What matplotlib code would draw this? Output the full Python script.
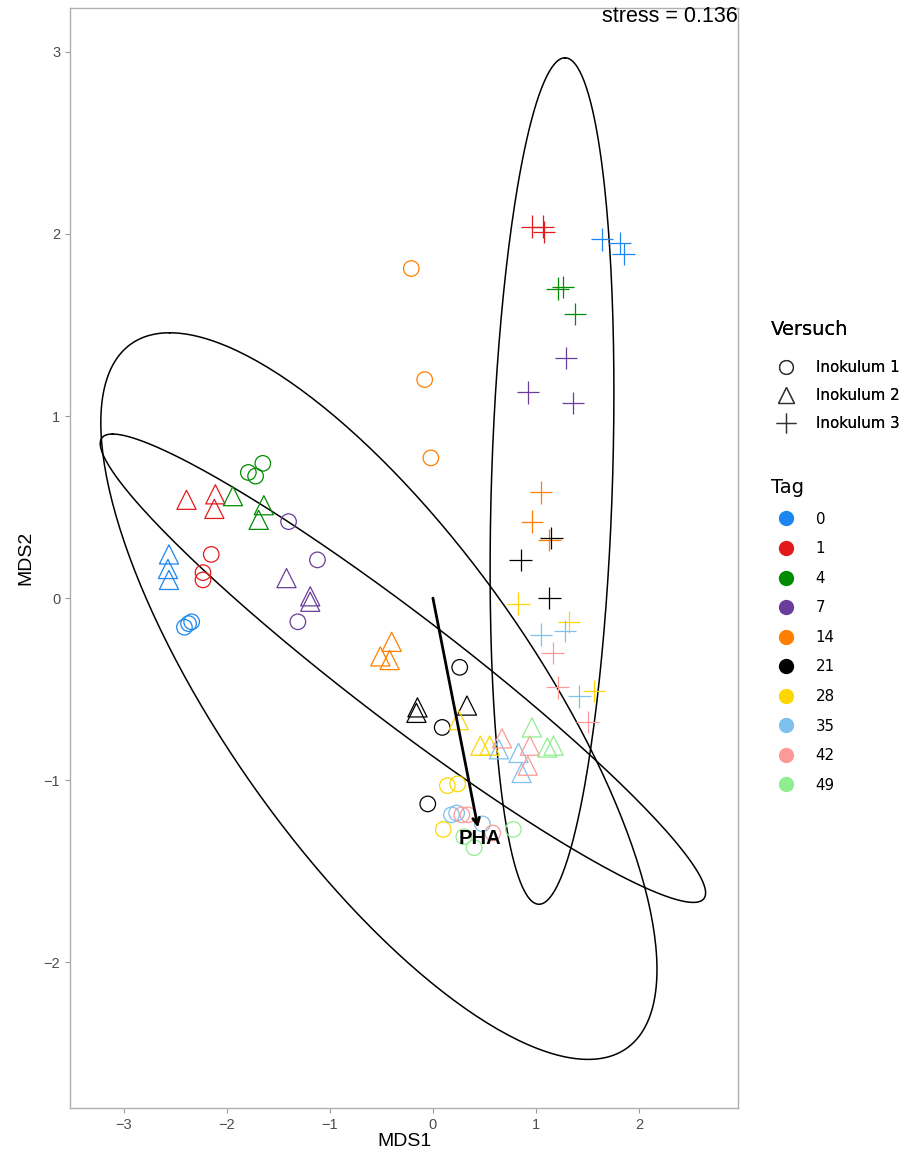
import numpy as np
import matplotlib
matplotlib.use("Agg")
import matplotlib.pyplot as plt
from matplotlib.lines import Line2D

plt.rcParams['font.family'] = ['Liberation Sans', 'DejaVu Sans']

# NMDS scores, one list per Versuch (Inokulum)
tags = [0, 1, 4, 7, 14, 21, 28, 35, 42, 49]
tag_colors = ['#1C86EE', '#E31A1C', '#008B00', '#6A3D9A', '#FF7F00',
              '#000000', '#FFD700', '#7EC0EE', '#FB9A99', '#90EE90']

inok1_tag = [0, 0, 0, 1, 1, 1, 4, 4, 4, 7, 7, 7, 14, 14, 14, 21, 21, 21,
             28, 28, 28, 35, 35, 35, 42, 42, 42, 49, 49, 49]
inok1_x = [-2.41, -2.37, -2.34, -2.15, -2.23, -2.23, -1.65, -1.79, -1.72,
           -1.40, -1.12, -1.31, -0.21, -0.08, -0.02, 0.26, 0.09, -0.05,
           0.14, 0.24, 0.10, 0.18, 0.23, 0.48, 0.28, 0.34, 0.58,
           0.78, 0.40, 0.30]
inok1_y = [-0.16, -0.14, -0.13, 0.24, 0.14, 0.10, 0.74, 0.69, 0.67,
           0.42, 0.21, -0.13, 1.81, 1.20, 0.77, -0.38, -0.71, -1.13,
           -1.03, -1.02, -1.27, -1.19, -1.18, -1.24, -1.19, -1.19, -1.29,
           -1.27, -1.37, -1.31]

inok2_tag = [0, 0, 0, 1, 1, 1, 4, 4, 4, 7, 7, 7, 14, 14, 14, 21, 21, 21,
             28, 28, 28, 35, 35, 35, 42, 42, 42, 49, 49, 49]
inok2_x = [-2.56, -2.57, -2.56, -2.39, -2.11, -2.12, -1.94, -1.64, -1.69,
           -1.42, -1.19, -1.19, -0.40, -0.51, -0.42, -0.15, -0.16, 0.33,
           0.25, 0.46, 0.55, 0.64, 0.83, 0.86, 0.67, 0.94, 0.92,
           0.96, 1.11, 1.17]
inok2_y = [0.24, 0.16, 0.10, 0.54, 0.57, 0.49, 0.56, 0.51, 0.43,
           0.11, 0.01, -0.02, -0.24, -0.32, -0.34, -0.60, -0.63, -0.59,
           -0.67, -0.81, -0.81, -0.83, -0.85, -0.96, -0.77, -0.81, -0.92,
           -0.71, -0.82, -0.81]

inok3_tag = [0, 0, 0, 1, 1, 1, 4, 4, 4, 7, 7, 7, 14, 14, 14, 21, 21, 21,
             28, 28, 28, 35, 35, 35, 42, 42, 42]
inok3_x = [1.64, 1.81, 1.85, 0.96, 1.07, 1.08, 1.21, 1.26, 1.38,
           1.29, 0.92, 1.36, 1.05, 0.96, 1.13, 1.15, 0.85, 1.13,
           0.83, 1.32, 1.56, 1.05, 1.28, 1.42, 1.16, 1.21, 1.50]
inok3_y = [1.97, 1.95, 1.89, 2.04, 2.04, 2.01, 1.70, 1.71, 1.56,
           1.32, 1.13, 1.07, 0.58, 0.42, 0.32, 0.33, 0.21, 0.00,
           -0.03, -0.13, -0.51, -0.20, -0.18, -0.54, -0.30, -0.49, -0.68]

# 95% ellipses per Versuch: centre, conjugate semi-diameters u and v
ell_center = [(-0.524, -0.538), (-0.291, -0.385), (1.155, 0.643)]
ell_u = [(-2.029, 1.995), (-2.816, 1.286), (0.126, 2.324)]
ell_v = [(1.777, 0.0), (0.830, 0.0), (0.587, 0.0)]

# envfit vector
pha_vec = (0.437, -1.26)
stress = 0.136

fig = plt.figure(figsize=(9.09, 11.53), dpi=100)
ax = fig.add_axes([0.077, 0.039, 0.735, 0.954])

col_of = dict(zip(tags, tag_colors))

t = np.linspace(0, 2 * np.pi, 300)
for c, u, v in zip(ell_center, ell_u, ell_v):
    ex = c[0] + np.cos(t) * u[0] + np.sin(t) * v[0]
    ey = c[1] + np.cos(t) * u[1] + np.sin(t) * v[1]
    ax.plot(ex, ey, color='black', lw=1.1, zorder=1)

ax.scatter(inok1_x, inok1_y, s=125, marker='o', facecolors='none',
           edgecolors=[col_of[g] for g in inok1_tag], linewidths=0.9, zorder=3)
ax.scatter(inok2_x, inok2_y, s=190, marker='^', facecolors='none',
           edgecolors=[col_of[g] for g in inok2_tag], linewidths=0.9, zorder=3)
ax.scatter(inok3_x, inok3_y, s=260, marker='+',
           c=[col_of[g] for g in inok3_tag], linewidths=0.9, zorder=3)

ax.annotate('', xy=pha_vec, xytext=(0, 0),
            arrowprops=dict(arrowstyle='->', lw=2, color='black',
                            mutation_scale=12, shrinkA=0, shrinkB=0), zorder=4)
ax.text(pha_vec[0] + 0.02, pha_vec[1] - 0.06, 'PHA', fontsize=14.5,
        fontweight='bold', ha='center', va='center', zorder=5)

ax.set_xlim(-3.52, 2.96)
ax.set_ylim(-2.80, 3.24)
ax.set_xticks([-3, -2, -1, 0, 1, 2])
ax.set_yticks([-2, -1, 0, 1, 2, 3])
ax.set_xticklabels(['\u22123', '\u22122', '\u22121', '0', '1', '2'])
ax.set_yticklabels(['\u22122', '\u22121', '0', '1', '2', '3'])
ax.tick_params(colors='#9A9A9A', labelcolor='#4D4D4D', labelsize=10.5,
               length=3.5, width=0.8)
for sp in ax.spines.values():
    sp.set_color('#B0B0B0')
    sp.set_linewidth(1.0)
ax.set_xlabel('MDS1', fontsize=14, labelpad=1)
ax.set_ylabel('MDS2', fontsize=14, labelpad=7)

ax.text(2.96, 3.25, 'stress = %.3f' % stress, ha='right', va='top',
        fontsize=15.5)

# legends
leg_font = ['DejaVu Sans']
shape_handles = [
    Line2D([], [], ls='none', marker='o', ms=10, mfc='none', mec='#333333', mew=0.9),
    Line2D([], [], ls='none', marker='^', ms=12, mfc='none', mec='#333333', mew=0.9),
    Line2D([], [], ls='none', marker='+', ms=15, color='#333333', mew=0.9),
]
leg1 = fig.legend(shape_handles, ['Inokulum 1', 'Inokulum 2', 'Inokulum 3'],
                  title='Versuch', loc='upper left', bbox_to_anchor=(0.833, 0.734),
                  frameon=False, prop={'family': leg_font, 'size': 10.8},
                  title_fontproperties={'family': leg_font, 'size': 14},
                  labelspacing=0.86, handletextpad=1.0, alignment='left')
leg1._legend_box.sep = 15
fig.add_artist(leg1)

tag_handles = [Line2D([], [], ls='none', marker='o', ms=10, mfc=c, mec=c)
               for c in tag_colors]
fig.legend(tag_handles, [str(g) for g in tags], title='Tag',
           loc='upper left', bbox_to_anchor=(0.833, 0.597), frameon=False,
           prop={'family': leg_font, 'size': 10.8},
           title_fontproperties={'family': leg_font, 'size': 14},
           labelspacing=0.97, handletextpad=1.0, alignment='left')

fig.savefig('out.png', dpi=100)
